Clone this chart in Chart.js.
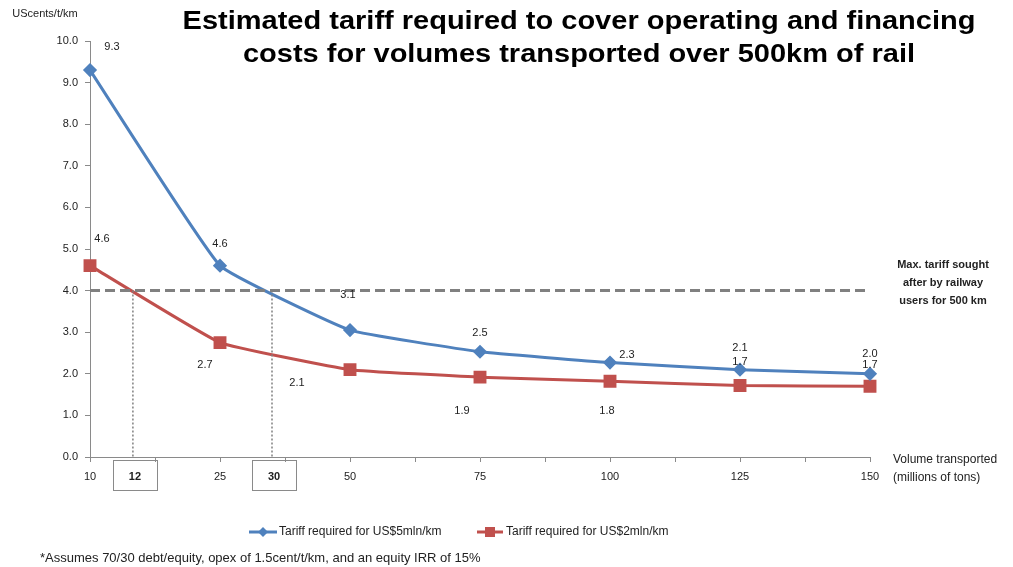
<!DOCTYPE html>
<html>
<head>
<meta charset="utf-8">
<script src="https://cdn.jsdelivr.net/npm/chart.js@4"></script>
<style>
  body { margin: 0; background: #fff; }
</style>
</head>
<body>
<canvas id="grafico" width="1013" height="567"></canvas>
<script>
// dados
const volumes = ['10', '25', '50', '75', '100', '125', '150'];
const tarifa5mln = [9.3, 4.6, 3.05, 2.53, 2.27, 2.1, 2.0];
const tarifa2mln = [4.6, 2.75, 2.1, 1.92, 1.82, 1.72, 1.7];
const rotulos5mln = ['9.3', '4.6', '3.1', '2.5', '2.3', '2.1', '2.0'];
const rotulos2mln = ['4.6', '2.7', '2.1', '1.9', '1.8', '1.7', '1.7'];
const tarifaMaxima = 4.0;
const volumesEquilibrio = ['12', '30'];
const posEquilibrio = [0.33, 1.4]; // posição no eixo (entre categorias)

// deslocamento dos rótulos (px)
const desloc5 = [[22, -23], [0, -22], [-2, -35], [0, -19], [17, -8], [0, -22], [0, -20]];
const desloc2 = [[12, -27], [-15, 22], [-53, 13], [-18, 34], [-3, 30], [0, -23], [0, -21]];

const azul = '#4F81BD';
const vermelho = '#C0504D';
const fonte = '"Liberation Sans", Arial, sans-serif';

const extras = {
  id: 'extras',
  afterDatasetsDraw(chart) {
    const ctx = chart.ctx;
    const x = chart.scales.x, y = chart.scales.y;
    const area = chart.chartArea;
    ctx.save();

    // linha tracejada da tarifa máxima
    const y4 = y.getPixelForValue(tarifaMaxima);
    ctx.strokeStyle = '#808080';
    ctx.lineWidth = 3;
    ctx.setLineDash([10, 5]);
    ctx.beginPath();
    ctx.moveTo(area.left, y4);
    ctx.lineTo(area.right, y4);
    ctx.stroke();

    // linhas pontilhadas + caixas
    ctx.lineWidth = 1.5;
    ctx.setLineDash([2, 2]);
    posEquilibrio.forEach((p, i) => {
      const px = x.getPixelForValue(p);
      ctx.strokeStyle = '#808080';
      ctx.beginPath();
      ctx.moveTo(px, y4);
      ctx.lineTo(px, area.bottom);
      ctx.stroke();
    });
    ctx.setLineDash([]);
    ctx.lineWidth = 1;
    posEquilibrio.forEach((p, i) => {
      const px = x.getPixelForValue(p) + 2;
      ctx.strokeStyle = '#8a8a8a';
      ctx.strokeRect(Math.round(px - 22) + 0.5, area.bottom + 3.5, 44, 30);
      ctx.fillStyle = '#222';
      ctx.font = 'bold 11px ' + fonte;
      ctx.textAlign = 'center';
      ctx.textBaseline = 'middle';
      ctx.fillText(volumesEquilibrio[i], px, area.bottom + 20);
    });

    // rótulos dos pontos
    ctx.font = '11px ' + fonte;
    ctx.fillStyle = '#222';
    ctx.textAlign = 'center';
    ctx.textBaseline = 'middle';
    [[0, rotulos5mln, desloc5], [1, rotulos2mln, desloc2]].forEach(([d, rot, desl]) => {
      chart.getDatasetMeta(d).data.forEach((pt, i) => {
        ctx.fillText(rot[i], pt.x + desl[i][0], pt.y + desl[i][1]);
      });
    });

    // nota da tarifa máxima
    ctx.font = 'bold 11px ' + fonte;
    ctx.fillText('Max. tariff sought', 943, 265);
    ctx.fillText('after by railway', 943, 283);
    ctx.fillText('users for 500 km', 943, 301);

    // títulos dos eixos
    ctx.font = '11px ' + fonte;
    ctx.fillText('UScents/t/km', 45, 14);
    ctx.textAlign = 'left';
    ctx.font = '12px ' + fonte;
    ctx.fillText('Volume transported', 893, 460);
    ctx.fillText('(millions of tons)', 893, 478);

    // título (esticado na horizontal como no original)
    ctx.save();
    ctx.translate(579, 0);
    ctx.scale(1.16, 1);
    ctx.font = 'bold 25px ' + fonte;
    ctx.fillStyle = '#000';
    ctx.textAlign = 'center';
    ctx.fillText('Estimated tariff required to cover operating and financing', 0, 22);
    ctx.fillText('costs for volumes transported over 500km of rail', 0, 55);
    ctx.restore();

    // legenda
    const ly = 532;
    ctx.lineWidth = 3;
    ctx.strokeStyle = azul;
    ctx.beginPath(); ctx.moveTo(249, ly); ctx.lineTo(277, ly); ctx.stroke();
    ctx.fillStyle = azul;
    ctx.beginPath();
    ctx.moveTo(263, ly - 5); ctx.lineTo(268, ly); ctx.lineTo(263, ly + 5); ctx.lineTo(258, ly);
    ctx.closePath(); ctx.fill();
    ctx.strokeStyle = vermelho;
    ctx.beginPath(); ctx.moveTo(477, ly); ctx.lineTo(503, ly); ctx.stroke();
    ctx.fillStyle = vermelho;
    ctx.fillRect(485, ly - 5, 10, 10);
    ctx.fillStyle = '#222';
    ctx.font = '12px ' + fonte;
    ctx.textAlign = 'left';
    ctx.fillText('Tariff required for US$5mln/km', 279, ly);
    ctx.fillText('Tariff required for US$2mln/km', 506, ly);

    // nota de rodapé
    ctx.font = '13px ' + fonte;
    ctx.fillText('*Assumes 70/30 debt/equity, opex of 1.5cent/t/km, and an equity IRR of 15%', 40, 558);
    ctx.restore();
  }
};

const ctx = document.getElementById('grafico').getContext('2d');
const grafico = new Chart(ctx, {
  type: 'line',
  data: {
    datasets: [{
      label: 'Tariff required for US$5mln/km',
      data: tarifa5mln.map((v, i) => ({ x: i, y: v })),
      borderColor: azul,
      backgroundColor: azul,
      borderWidth: 3,
      pointStyle: 'rectRot',
      pointRadius: 5,
      pointHoverRadius: 5,
      tension: 0.1,
      clip: false,
      order: 1
    }, {
      label: 'Tariff required for US$2mln/km',
      data: tarifa2mln.map((v, i) => ({ x: i, y: v })),
      borderColor: vermelho,
      backgroundColor: vermelho,
      borderWidth: 3,
      pointStyle: 'rect',
      pointRadius: 7,
      pointHoverRadius: 7,
      tension: 0.1,
      clip: false,
      order: 2
    }]
  },
  options: {
    responsive: false,
    animation: false,
    layout: { padding: { left: 50, right: 143, top: 41, bottom: 80 } },
    plugins: { legend: { display: false }, tooltip: { enabled: false } },
    scales: {
      x: {
        type: 'linear',
        min: 0,
        max: volumes.length - 1,
        afterFit: s => { s.height = 30; },
        afterBuildTicks: s => {
          s.ticks = [];
          for (let v = 0; v <= volumes.length - 1; v += 0.5) s.ticks.push({ value: v });
        },
        ticks: {
          autoSkip: false,
          maxRotation: 0,
          padding: 8,
          color: '#222',
          font: { family: fonte, size: 11 },
          callback: v => Number.isInteger(v) ? volumes[v] : ''
        },
        grid: { drawOnChartArea: false, color: '#8a8a8a', tickLength: 5 },
        border: { color: '#8a8a8a' }
      },
      y: {
        min: 0,
        max: 10,
        afterFit: s => { s.width = 40; },
        ticks: {
          stepSize: 1,
          padding: 7,
          color: '#222',
          font: { family: fonte, size: 11 },
          callback: v => v.toFixed(1)
        },
        grid: { drawOnChartArea: false, color: '#8a8a8a', tickLength: 5 },
        border: { color: '#8a8a8a' }
      }
    }
  },
  plugins: [extras]
});
</script>
</body>
</html>
